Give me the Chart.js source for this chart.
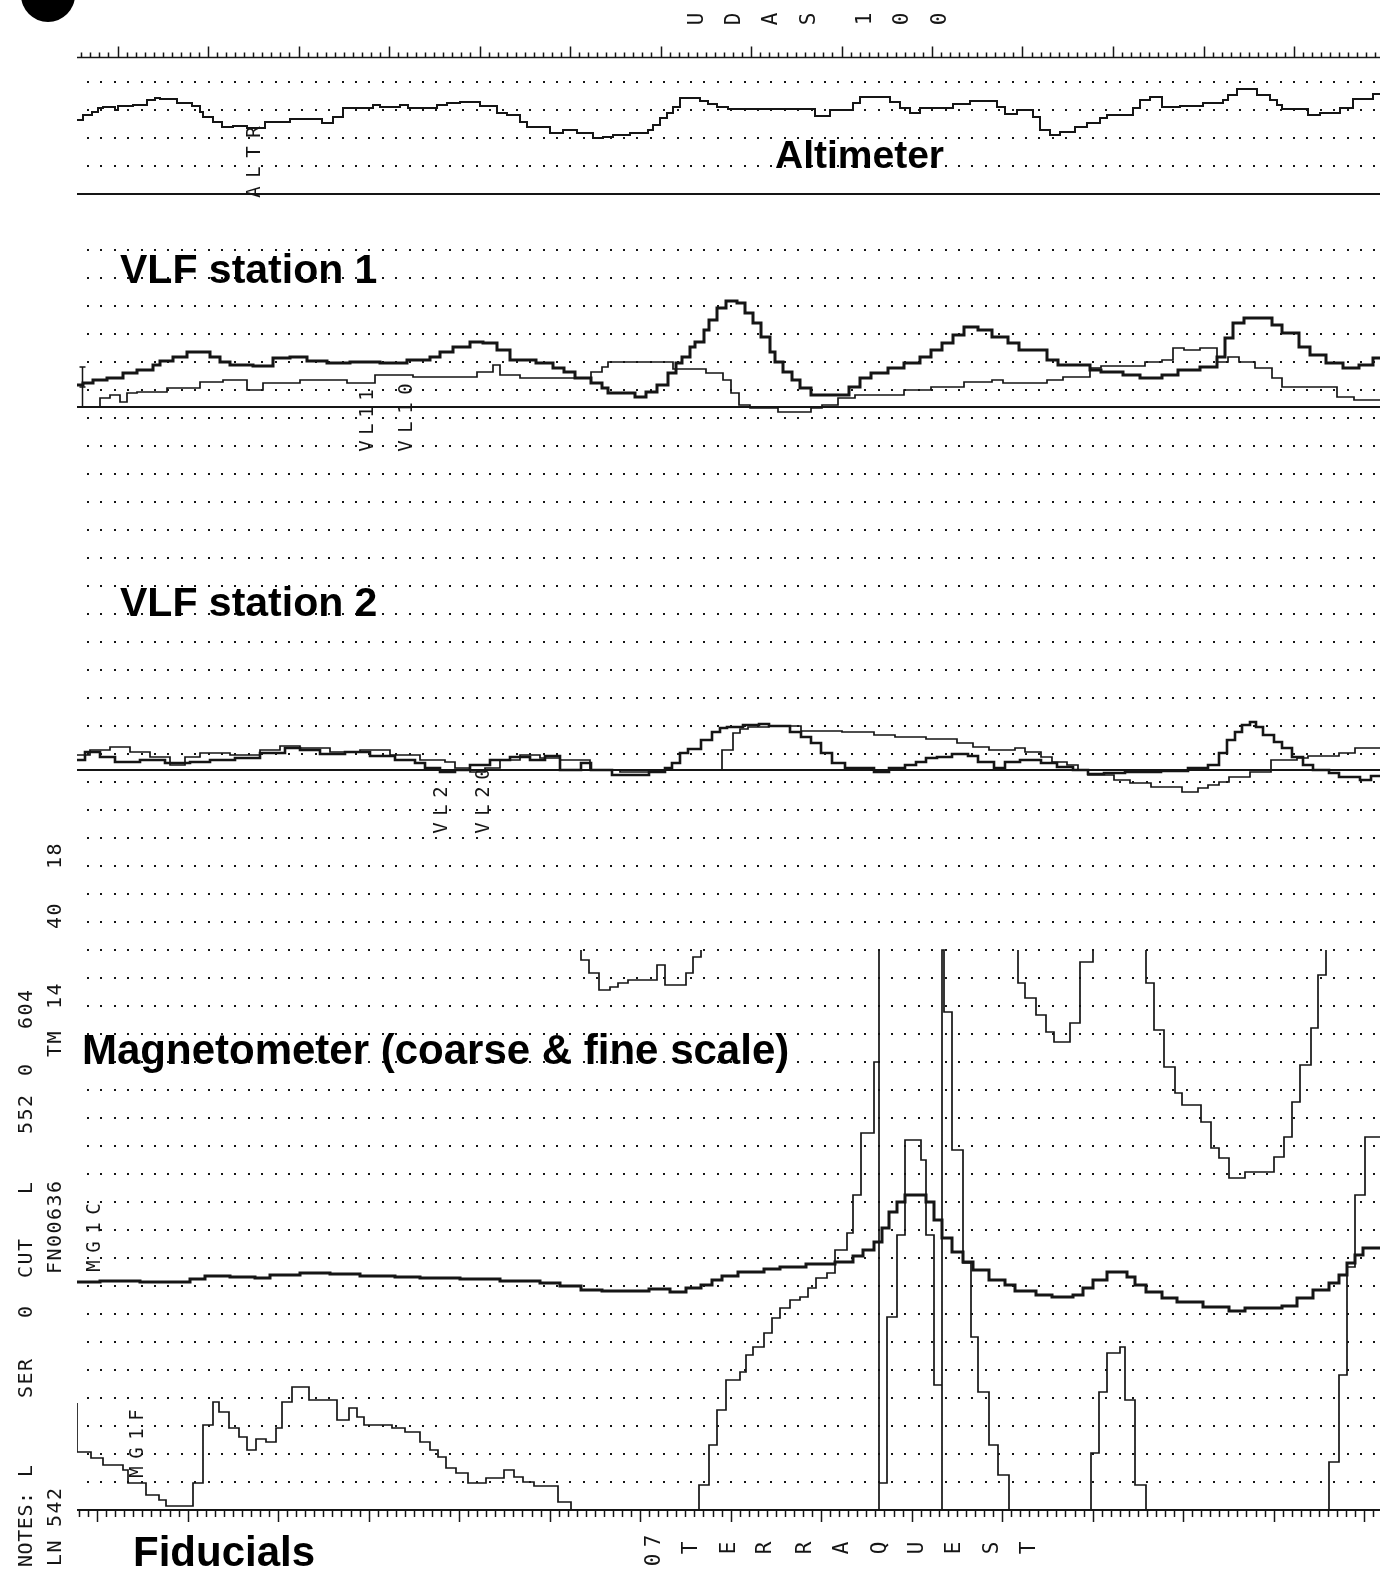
<!DOCTYPE html>
<html>
<head>
<meta charset="utf-8">
<title>Airborne survey strip chart</title>
<script src="https://cdn.jsdelivr.net/npm/chart.js@4.4.1/dist/chart.umd.min.js"></script>
<style>
  html, body { margin: 0; padding: 0; background: #fff; }
</style>
</head>
<body>
<canvas id="strip" width="1380" height="1573"></canvas>
<script>
// ---- traces: [distance along line, deflection above the trace's own baseline] (chart units)
const altimeter = [[77,74],[83,79],[92,82],[98,86],[103,87],[115,84],[118,88],[133,89],[147,94],[155,96],[160,95],[177,91],[192,88],[200,82],[203,77],[213,72],[222,67],[233,68],[247,66],[265,72],[290,75],[322,71],[333,77],[343,86],[373,89],[380,87],[400,89],[408,86],[437,89],[447,91],[460,92],[480,88],[497,81],[507,79],[520,72],[527,67],[550,61],[563,64],[577,61],[593,56],[603,57],[613,59],[630,61],[648,64],[653,69],[660,76],[667,81],[673,87],[680,96],[700,93],[708,90],[717,87],[728,85],[815,78],[830,84],[853,91],[860,97],[890,92],[900,86],[910,81],[920,86],[953,90],[970,93],[997,87],[1005,80],[1017,84],[1033,77],[1040,64],[1050,59],[1060,62],[1075,67],[1087,71],[1100,76],[1107,79],[1133,86],[1140,94],[1150,97],[1162,87],[1180,88],[1203,91],[1223,94],[1228,99],[1237,105],[1257,99],[1270,94],[1277,89],[1282,85],[1308,79],[1320,81],[1340,86],[1353,95],[1373,100],[1380,100]];

const vlf1Line11 = [[77,22],[83,24],[93,27],[107,29],[123,34],[137,37],[153,42],[160,46],[173,50],[187,55],[210,50],[220,45],[230,42],[253,41],[273,49],[290,50],[307,46],[327,44],[350,45],[380,44],[407,47],[430,50],[440,55],[453,60],[470,65],[483,64],[497,57],[510,47],[536,44],[553,39],[564,35],[575,29],[591,24],[602,19],[608,14],[635,10],[646,15],[657,22],[668,34],[676,44],[682,50],[690,60],[695,65],[704,77],[709,87],[717,99],[726,106],[737,104],[745,94],[753,84],[761,70],[770,55],[775,45],[783,35],[792,27],[800,19],[811,12],[849,20],[860,29],[871,34],[888,39],[904,44],[920,50],[931,57],[942,64],[953,72],[964,80],[978,77],[992,70],[1008,64],[1019,57],[1047,47],[1058,42],[1090,37],[1101,35],[1123,32],[1140,29],[1162,32],[1178,37],[1200,40],[1217,50],[1225,69],[1233,84],[1244,89],[1272,82],[1282,74],[1299,60],[1310,52],[1326,44],[1343,39],[1359,42],[1373,49],[1380,49]];

const vlf1Line10 = [[85,0],[100,9],[110,12],[120,5],[127,14],[137,15],[167,19],[200,25],[223,27],[247,17],[263,24],[300,27],[347,24],[375,32],[413,30],[477,35],[493,42],[500,32],[520,29],[561,29],[591,35],[602,40],[608,45],[673,38],[706,34],[723,27],[731,14],[739,2],[750,-1],[778,-5],[811,-1],[822,2],[838,9],[855,12],[904,17],[931,20],[964,25],[992,27],[1003,24],[1047,27],[1063,30],[1090,39],[1101,41],[1145,45],[1162,47],[1173,59],[1184,57],[1200,59],[1217,45],[1228,50],[1239,45],[1255,39],[1272,29],[1282,20],[1337,10],[1354,7],[1380,7]];

const vlf2Line2 = [[77,10],[85,18],[100,13],[115,8],[140,10],[165,7],[190,8],[210,10],[235,12],[260,17],[285,22],[300,20],[320,16],[345,18],[370,14],[395,10],[415,7],[425,2],[440,-2],[455,0],[470,5],[490,10],[510,13],[530,10],[545,14],[560,0],[581,7],[591,0],[612,-5],[649,-2],[665,2],[672,7],[680,17],[688,21],[701,30],[712,38],[720,42],[727,43],[743,45],[759,46],[769,44],[790,38],[801,33],[811,27],[821,17],[832,7],[845,2],[874,-2],[889,2],[905,5],[916,8],[926,12],[937,13],[952,16],[968,14],[978,8],[994,2],[1005,8],[1020,10],[1041,7],[1057,3],[1073,0],[1088,-4],[1104,-3],[1125,-2],[1161,-1],[1188,2],[1208,5],[1219,17],[1227,30],[1235,38],[1242,45],[1250,48],[1256,43],[1263,35],[1274,28],[1282,22],[1292,13],[1303,5],[1313,0],[1329,-3],[1339,-7],[1360,-10],[1371,-6],[1380,-6]];

const vlf2Line20 = [[77,15],[90,20],[110,23],[130,18],[150,13],[170,5],[185,13],[200,17],[230,15],[260,20],[280,24],[300,22],[330,18],[360,20],[390,15],[420,10],[445,8],[455,2],[470,-2],[485,2],[500,10],[520,15],[540,12],[560,10],[590,0],[620,-2],[660,0],[722,20],[733,37],[740,41],[748,43],[769,44],[801,39],[842,38],[874,35],[895,33],[926,31],[957,27],[973,23],[989,20],[1015,22],[1025,18],[1041,13],[1052,8],[1067,5],[1078,0],[1088,-5],[1114,-10],[1130,-13],[1151,-17],[1182,-22],[1198,-18],[1208,-15],[1219,-12],[1229,-7],[1250,-2],[1271,10],[1297,12],[1308,14],[1339,17],[1355,22],[1380,22]];

const magCoarse = [[77,228],[100,229],[140,228],[190,231],[205,234],[230,233],[255,232],[270,235],[300,237],[330,236],[360,234],[395,233],[420,232],[460,231],[500,229],[540,227],[560,224],[581,220],[602,219],[649,221],[670,218],[686,222],[701,225],[712,230],[722,234],[738,238],[764,241],[780,243],[806,246],[835,248],[853,254],[863,260],[874,268],[882,282],[889,298],[897,308],[905,315],[926,308],[934,290],[942,272],[952,258],[963,248],[973,240],[989,230],[1005,225],[1015,219],[1036,215],[1052,213],[1073,215],[1083,222],[1093,230],[1107,238],[1127,233],[1135,225],[1146,218],[1162,212],[1177,208],[1203,203],[1229,199],[1245,202],[1282,204],[1297,212],[1313,220],[1329,227],[1339,235],[1347,247],[1355,255],[1363,262],[1380,262]];

const magFine = [[77,107],[77,58],[91,52],[103,45],[123,40],[128,27],[146,15],[159,10],[166,4],[193,27],[203,85],[213,108],[219,98],[229,82],[239,73],[247,60],[256,71],[266,68],[276,82],[282,108],[292,123],[309,110],[337,90],[349,102],[357,93],[364,85],[392,82],[405,78],[420,68],[430,60],[438,53],[446,42],[456,37],[468,27],[486,32],[504,40],[514,33],[523,28],[534,24],[558,8],[571,0],[699,25],[709,65],[717,100],[726,130],[740,138],[746,155],[753,163],[764,177],[772,192],[780,202],[790,210],[800,213],[808,222],[816,232],[827,237],[835,260],[847,277],[853,315],[861,377],[874,448],[879,560],[879,0],[879,27],[887,193],[897,275],[905,370],[921,350],[926,275],[934,125],[942,0],[942,560],[944,498],[952,360],[963,247],[971,173],[978,118],[989,65],[998,35],[1009,0],[1091,57],[1099,118],[1107,157],[1120,163],[1125,110],[1135,25],[1146,0],[1329,48],[1339,135],[1347,243],[1355,315],[1365,373],[1380,373]];

// fine-scale pieces that came back in over the top of the range
const magFineWrapped = [[581,560],[581,550],[589,537],[599,520],[610,523],[618,527],[628,530],[657,545],[665,525],[686,537],[693,553],[701,560],[701,null],[1018,560],[1018,527],[1025,512],[1036,495],[1046,478],[1054,468],[1070,487],[1080,548],[1093,560],[1093,null],[1146,560],[1146,527],[1154,480],[1164,443],[1175,417],[1182,405],[1201,388],[1211,362],[1219,352],[1229,332],[1245,338],[1274,353],[1284,373],[1292,408],[1300,445],[1311,482],[1318,535],[1326,560]];

// ---- text on the chart
const bandTitles = ['Altimeter', 'VLF station 1', 'VLF station 2', 'Magnetometer (coarse & fine scale)', 'Fiducials'];
const traceTags = ['ALTR', 'VL11', 'VL10', 'VL2', 'VL20', 'MG1C', 'MG1F'];
const headerChars = ['U', 'D', 'A', 'S', '1', '0', '0'];
const footerChars = ['T', 'E', 'R', 'R', 'A', 'Q', 'U', 'E', 'S', 'T'];
const noteWords = ['NOTES:', 'L', 'SER', '0', 'CUT', 'L', '552', '0', '604'];
const infoWords = ['LN', '542', 'FN00636', 'TM', '14', '40', '18'];

// ---- layout
const X_MIN = 77, X_MAX = 1380, Y_MIN = -63, Y_MAX = 1510;
const ROW = 28;                       // one grid division
const BASE = { alt: 1316, vlf1: 1103, vlf2: 740, mag: 0 };
const SKIP_ROWS = [4, 5];
const DOT_X0 = 88, DOT_DX = 13.4;
const RULER_V = 1453;
const INK = '#151515';

function trace(label, pts, base, width) {
  return {
    label,
    data: pts.map(p => ({ x: p[0], y: p[1] === null ? null : p[1] + base })),
    borderColor: INK, borderWidth: width, pointRadius: 0,
    stepped: true, spanGaps: false, fill: false
  };
}
function zeroLine(label, base, width) {
  return {
    label,
    data: [{ x: X_MIN, y: base }, { x: X_MAX, y: base }],
    borderColor: INK, borderWidth: width, pointRadius: 0, fill: false
  };
}

// sideways plotter lettering: characters stacked bottom to top
function upChars(ctx, text, cx, bottom, pitch) {
  [...text].forEach((ch, i) => {
    ctx.save();
    ctx.translate(cx, bottom - i * pitch);
    ctx.rotate(-Math.PI / 2);
    ctx.fillText(ch, 0, 0);
    ctx.restore();
  });
}

const paper = {
  id: 'paper',
  beforeDatasetsDraw(chart) {
    const { ctx, scales: { x, y } } = chart;
    ctx.save();
    ctx.fillStyle = INK;
    ctx.strokeStyle = INK;
    // dotted chart paper
    for (let k = 0; k <= 50; k++) {
      if (SKIP_ROWS.includes(k)) continue;
      const py = Math.round(y.getPixelForValue(ROW * (51 - k)));
      for (let d = DOT_X0; d <= X_MAX; d += DOT_DX) {
        ctx.fillRect(Math.round(x.getPixelForValue(d)) - 1, py - 1, 2, 2);
      }
    }
    // top ruler
    const ry = Math.round(y.getPixelForValue(RULER_V)) + 0.5;
    ctx.lineWidth = 1.5;
    ctx.beginPath();
    ctx.moveTo(x.getPixelForValue(X_MIN), ry);
    ctx.lineTo(x.getPixelForValue(X_MAX), ry);
    for (let n = 0; ; n++) {
      const v = 81.3 + 9.05 * n;
      if (v > X_MAX) break;
      const px = Math.round(x.getPixelForValue(v)) + 0.5;
      ctx.moveTo(px, ry);
      ctx.lineTo(px, ry - ((n - 4) % 10 === 0 ? 11 : 5));
    }
    ctx.stroke();
    // fiducial ticks
    const fy = Math.round(y.getPixelForValue(BASE.mag));
    ctx.beginPath();
    for (let n = 0; ; n++) {
      const v = 79 + 9.05 * n;
      if (v > X_MAX) break;
      const px = Math.round(x.getPixelForValue(v)) + 0.5;
      ctx.moveTo(px, fy);
      ctx.lineTo(px, fy + (n % 10 === 2 ? 12 : 7));
    }
    ctx.stroke();
    // calibration bracket on VLF 1
    const bx = Math.round(x.getPixelForValue(82)) + 0.5;
    const b0 = y.getPixelForValue(BASE.vlf1), b1 = y.getPixelForValue(BASE.vlf1 + 40);
    ctx.beginPath();
    ctx.moveTo(bx, b0); ctx.lineTo(bx, b1);
    ctx.moveTo(bx - 3, b1); ctx.lineTo(bx + 3, b1);
    ctx.moveTo(bx - 3, (b0 + b1) / 2); ctx.lineTo(bx + 3, (b0 + b1) / 2);
    ctx.stroke();
    ctx.restore();
  },
  afterDraw(chart) {
    const { ctx } = chart;
    ctx.save();
    ctx.fillStyle = '#000';
    // punched hole
    ctx.beginPath();
    ctx.arc(48, -5, 27, 0, Math.PI * 2);
    ctx.fill();
    // band titles
    ctx.textAlign = 'left';
    ctx.textBaseline = 'alphabetic';
    const titlePos = [[775, 168, 39], [120, 283, 41], [120, 616, 41], [82, 1064, 42], [133, 1566, 42]];
    bandTitles.forEach((t, i) => {
      const [tx, ty, fs] = titlePos[i];
      ctx.font = 'bold ' + fs + 'px "Liberation Sans", Arial, sans-serif';
      ctx.fillText(t, tx, ty);
    });
    // plotter lettering, printed sideways
    ctx.fillStyle = INK;
    ctx.textAlign = 'center';
    ctx.textBaseline = 'middle';
    ctx.font = '19px "DejaVu Sans Mono", monospace';
    const tagPos = [[255, 192, 20], [368, 446, 17], [407, 446, 19], [442, 828, 18], [484, 828, 18], [95, 1266, 19], [138, 1472, 19]];
    traceTags.forEach((t, i) => upChars(ctx, t, ...tagPos[i]));
    ctx.font = '21px "DejaVu Sans Mono", monospace';
    const headerX = [698, 735, 772, 810, 866, 903, 941];
    headerChars.forEach((c, i) => upChars(ctx, c, headerX[i], 19, 0));
    const footerX = [692, 730, 766, 806, 843, 881, 918, 955, 993, 1030];
    footerChars.forEach((c, i) => upChars(ctx, c, footerX[i], 1548, 0));
    upChars(ctx, '07', 655, 1560, 19);
    ctx.font = '20px "DejaVu Sans Mono", monospace';
    const noteBottom = [1561, 1471, 1392, 1312, 1272, 1188, 1128, 1070, 1023];
    noteWords.forEach((w, i) => upChars(ctx, w, 27, noteBottom[i], i === 0 ? 12.6 : 13.5));
    const infoBottom = [1560, 1521, 1268, 1051, 1003, 923, 863];
    infoWords.forEach((w, i) => upChars(ctx, w, 56, infoBottom[i], 13.5));
    ctx.restore();
  }
};

new Chart(document.getElementById('strip'), {
  type: 'line',
  data: {
    datasets: [
      zeroLine('altimeter base', BASE.alt, 2),
      zeroLine('VLF 1 base', BASE.vlf1, 2.2),
      zeroLine('VLF 2 base', BASE.vlf2, 2),
      zeroLine('fiducial line', BASE.mag, 2),
      trace('ALTR', altimeter, BASE.alt, 2),
      trace('VL11', vlf1Line11, BASE.vlf1, 3),
      trace('VL10', vlf1Line10, BASE.vlf1, 1.7),
      trace('VL2', vlf2Line2, BASE.vlf2, 2.6),
      trace('VL20', vlf2Line20, BASE.vlf2, 1.7),
      trace('MG1C', magCoarse, BASE.mag, 3),
      trace('MG1F', magFine, BASE.mag, 1.7),
      trace('MG1F wrapped', magFineWrapped, BASE.mag, 1.7)
    ]
  },
  options: {
    responsive: false,
    animation: false,
    devicePixelRatio: 1,
    layout: { padding: { left: 77, right: 0, top: 0, bottom: 0 } },
    scales: {
      x: { type: 'linear', min: X_MIN, max: X_MAX, display: false },
      y: { type: 'linear', min: Y_MIN, max: Y_MAX, display: false }
    },
    plugins: { legend: { display: false }, tooltip: { enabled: false } }
  },
  plugins: [paper]
});
</script>
</body>
</html>
